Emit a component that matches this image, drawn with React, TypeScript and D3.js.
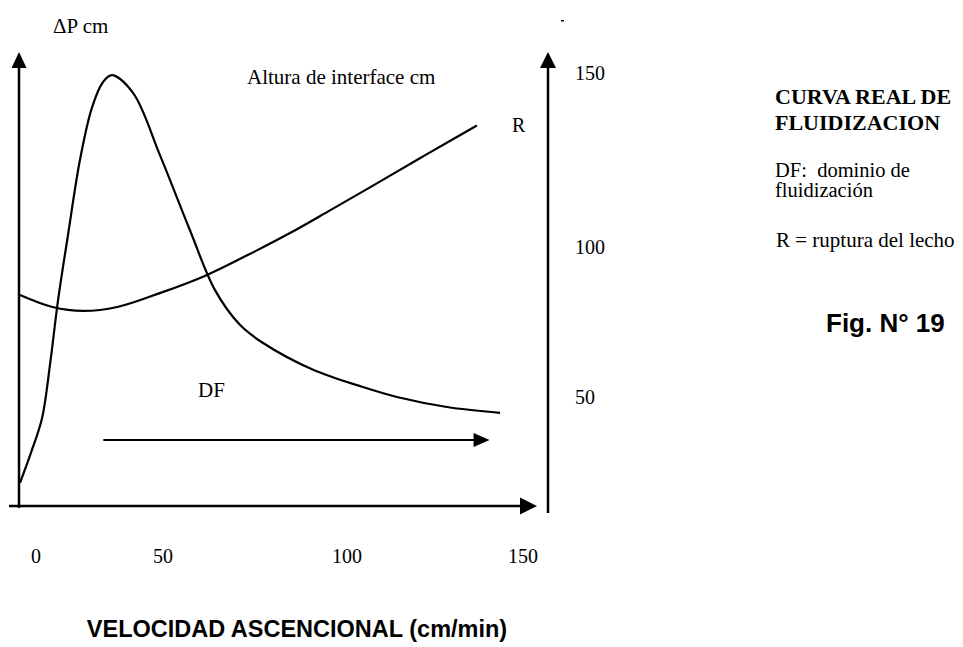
import React from 'react';
import { scaleLinear, line, curveCatmullRom } from 'd3';

// velocity ticks (cm/min) on the bottom
const xTicks = [0, 50, 100, 150];
// interface height ticks (cm) on the right
const rightTicks = [50, 100, 150];

// pressure drop curve (ΔP, arbitrary units 0..100)
const dpVel = [-6.3, -2, 2.4, 5.5, 8.7, 12.6, 17.3, 22, 26.4, 29.9, 38.2, 48.8, 57.3, 64.1, 70.9, 77.2, 90.8, 104.5, 114.2, 128.4, 143.5];
const dpVal = [5.1, 11.7, 19.4, 31.1, 45.4, 59.7, 76.2, 87.7, 93.4, 94.9, 91, 77.3, 60.8, 47.6, 39.9, 35.9, 30, 26.2, 24, 21.8, 20.5];

// interface height curve (cm)
const hVel = [-6.3, 6.5, 18.5, 32, 49, 62, 73, 84.5, 95.5, 107.5, 120.7, 131.2, 136.9];
const hVal = [84, 80, 78.7, 80, 84.7, 90.7, 97.3, 104, 110.6, 117.7, 125.5, 131.6, 134.9];

// fluidization domain arrow (velocity range)
const dfRange = [26.5, 140.5];

const W = 963;
const H = 647;
const serif = '"Liberation Serif", "Times New Roman", serif';
const sans = '"Liberation Sans", Arial, sans-serif';

export default function App() {
  // hand drawn figure: tick spacing isn't even, so piecewise scales
  const x = scaleLinear().domain([0, 50, 100, 150]).range([36, 163, 347, 523]);
  const yRight = scaleLinear().domain([50, 100, 150]).range([397, 247, 73]);
  const yLeft = scaleLinear().domain([0, 100]).range([506, 52]);

  const leftX = 19;
  const rightX = 548;
  const baseY = 506;
  const topY = 52;

  const dpLine = line<number>()
    .x((d, i) => x(dpVel[i]))
    .y((d) => yLeft(d))
    .curve(curveCatmullRom.alpha(0.5));

  const hLine = line<number>()
    .x((d, i) => x(hVel[i]))
    .y((d) => yRight(d))
    .curve(curveCatmullRom.alpha(0.5));

  const dfY = 440;
  const dfX0 = x(dfRange[0]);
  const dfX1 = x(dfRange[1]);

  return (
    <svg width={W} height={H} style={{ position: 'absolute', left: 0, top: 0, background: '#fff' }}>
      <rect width={W} height={H} fill="#fff" />

      {/* left axis */}
      <line x1={leftX} y1={baseY + 2} x2={leftX} y2={topY + 14} stroke="#000" strokeWidth={2.5} />
      <path d={`M${leftX},${topY} L${leftX - 7.5},${topY + 16} L${leftX + 7.5},${topY + 16} Z`} fill="#000" />

      {/* right axis */}
      <line x1={rightX} y1={513} x2={rightX} y2={topY + 14} stroke="#000" strokeWidth={2.5} />
      <path d={`M${rightX},${topY} L${rightX - 8},${topY + 16} L${rightX + 8},${topY + 16} Z`} fill="#000" />

      {/* bottom axis */}
      <line x1={9} y1={baseY} x2={523} y2={baseY} stroke="#000" strokeWidth={2.5} />
      <path d={`M537,${baseY} L520,${baseY - 8.5} L520,${baseY + 8.5} Z`} fill="#000" />

      {/* curves */}
      <path d={dpLine(dpVal) || ''} fill="none" stroke="#000" strokeWidth={2.2} />
      <path d={hLine(hVal) || ''} fill="none" stroke="#000" strokeWidth={2.2} />

      {/* DF arrow */}
      <line x1={dfX0} y1={dfY} x2={dfX1 - 12} y2={dfY} stroke="#000" strokeWidth={2} />
      <path d={`M${dfX1},${dfY} L${dfX1 - 16},${dfY - 7} L${dfX1 - 16},${dfY + 7} Z`} fill="#000" />

      {/* tick labels */}
      {xTicks.map((t) => (
        <text key={t} x={x(t)} y={563} textAnchor="middle" fontFamily={serif} fontSize={20}>
          {t}
        </text>
      ))}
      {rightTicks.map((t) => (
        <text key={t} x={575} y={yRight(t) + 7} fontFamily={serif} fontSize={20}>
          {t}
        </text>
      ))}

      {/* labels */}
      <text x={53} y={33} fontFamily={serif} fontSize={21}>ΔP cm</text>
      <text x={247} y={84} fontFamily={serif} fontSize={21}>Altura de interface cm</text>
      <text x={512} y={132} fontFamily={serif} fontSize={20}>R</text>
      <text x={198} y={397} fontFamily={serif} fontSize={21}>DF</text>
      <rect x={561} y={20} width={3} height={1.5} fill="#000" />

      <text x={297} y={637} textAnchor="middle" fontFamily={sans} fontWeight="bold" fontSize={23.5}>
        VELOCIDAD ASCENCIONAL (cm/min)
      </text>

      {/* side notes */}
      <text fontFamily={serif} fontWeight="bold" fontSize={22}>
        <tspan x={775} y={104}>CURVA REAL DE</tspan>
        <tspan x={775} y={130}>FLUIDIZACION</tspan>
      </text>
      <text fontFamily={serif} fontSize={20.5} xmlSpace="preserve">
        <tspan x={775} y={177}>DF:  dominio de</tspan>
        <tspan x={775} y={197}>fluidización</tspan>
      </text>
      <text x={776} y={247} fontFamily={serif} fontSize={21}>R = ruptura del lecho</text>
      <text x={826} y={332} fontFamily={sans} fontWeight="bold" fontSize={26}>Fig. N° 19</text>
    </svg>
  );
}
